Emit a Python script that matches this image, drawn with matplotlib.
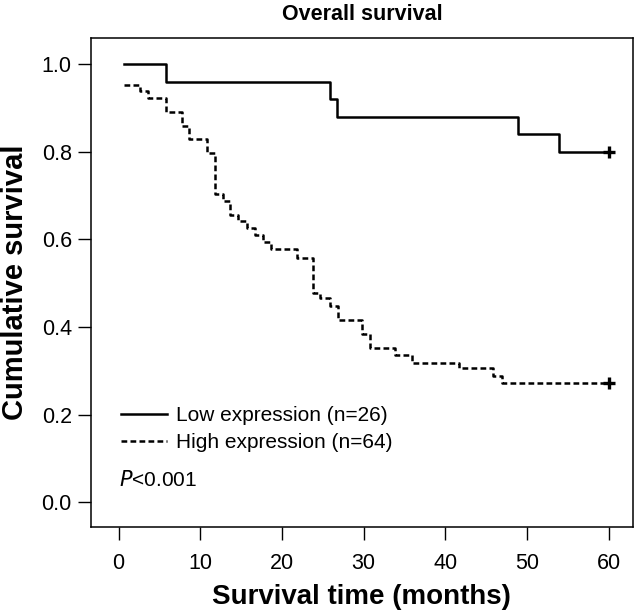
import matplotlib
matplotlib.use("Agg")
import matplotlib.pyplot as plt

# Kaplan-Meier steps (time in months, survival fraction)
low_time = [0.7, 5.8, 25.9, 26.8, 48.9, 53.9, 60.0]
low_surv = [1.00, 0.96, 0.92, 0.88, 0.84, 0.80, 0.80]

high_time = [0.7, 2.6, 3.6, 5.8, 7.7, 8.6, 10.8, 11.8, 12.8, 13.6, 14.6, 15.7,
             16.7, 17.7, 18.7, 21.8, 23.8, 24.7, 25.9, 26.9, 29.8, 30.8, 33.8,
             35.9, 41.7, 45.9, 47.0, 60.0]
high_surv = [0.953, 0.938, 0.922, 0.891, 0.859, 0.828, 0.797, 0.703, 0.688,
             0.656, 0.641, 0.625, 0.609, 0.594, 0.578, 0.557, 0.477, 0.466,
             0.448, 0.416, 0.384, 0.352, 0.336, 0.317, 0.307, 0.287, 0.272, 0.272]

labels = ["Low expression (n=26)", "High expression (n=64)"]
xticks = [0, 10, 20, 30, 40, 50, 60]
yticks = [0.0, 0.2, 0.4, 0.6, 0.8, 1.0]

plt.rcParams["font.family"] = ["Liberation Sans", "DejaVu Sans"]

fig = plt.figure(figsize=(6.35, 6.1), dpi=100)
ax = fig.add_axes([0.1428, 0.1366, 0.8541, 0.8006])

ax.step(low_time, low_surv, where="post", color="black", lw=1.8, label=labels[0])
ax.step(high_time, high_surv, where="post", color="black", lw=1.8,
        linestyle=(0, (2.3, 1.3)), label=labels[1])
# censored at end of follow-up
ax.plot(low_time[-1], low_surv[-1], marker="+", color="black", ms=9, mew=2.4)
ax.plot(high_time[-1], high_surv[-1], marker="+", color="black", ms=9, mew=2.4)

ax.set_xlim(-3.43, 63.0)
ax.set_ylim(-0.056, 1.059)
ax.set_xticks(xticks)
ax.set_yticks(yticks)
ax.set_yticklabels([f"{v:.1f}" for v in yticks])
ax.tick_params(direction="out", length=9.6, width=1.0, labelsize=15.5)
ax.tick_params(axis="x", pad=9)
ax.tick_params(axis="y", pad=4)
for s in ax.spines.values():
    s.set_linewidth(1.1)

fig.text(0.5699, 1 - 15 / 610, "Overall survival", fontsize=15.5, fontweight="bold",
         ha="center", va="center")
ax.set_xlabel("Survival time (months)", fontsize=20, fontweight="bold", va="center")
ax.set_ylabel("Cumulative survival", fontsize=21, fontweight="bold", va="center")
ax.xaxis.set_label_coords(0.5, -0.144)
ax.yaxis.set_label_coords(-0.14, 0.5)

ax.legend(loc="upper left", bbox_to_anchor=(0.055, 0.247), frameon=False,
          fontsize=15, handlelength=2.25, handletextpad=0.4, labelspacing=0.4,
          borderaxespad=0, borderpad=0)
ax.text(0.0, 0.05, "$P$<0.001", fontsize=15, va="center", ha="left")

plt.savefig("out.png", dpi=100)
